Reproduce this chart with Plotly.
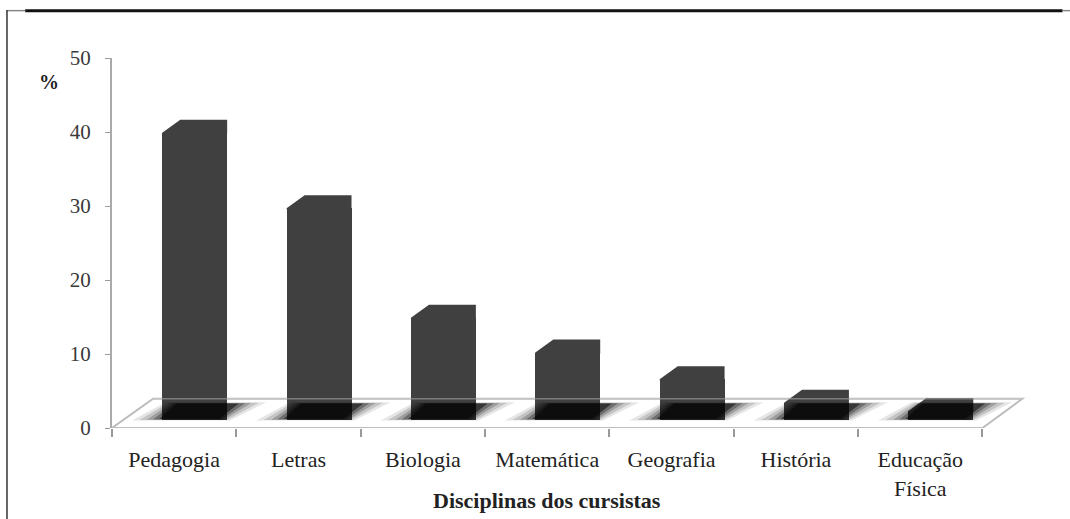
import plotly.graph_objects as go

categories = ["Pedagogia", "Letras", "Biologia", "Matemática", "Geografia", "História", "Educação<br>Física"]
values = [38.8, 28.6, 13.8, 9.1, 5.5, 2.3, 1.2]
y_ticks = [0, 10, 20, 30, 40, 50]

# style / geometry constants (pseudo-3D look)
FLOOR = 1.1          # bar base above axis zero (floor depth)
BAR_OFF = -0.096     # bar left edge relative to category position
BAR_W = 0.522
BEV_DX = 0.145       # bevel x shift
BEV_DY = 1.76        # bevel y shift
BAR_COLOR = "#404040"
SERIF = "Liberation Serif"

xs = list(range(len(categories)))
n = len(categories)

fig = go.Figure()

# floor parallelogram (below the bars)
fig.add_shape(type="path",
              path=f"M -0.5 0 L {n-0.5} 0 L {n-0.5+0.32} 3.95 L {-0.5+0.33} 3.95 Z",
              xref="x", yref="y", line=dict(color="#bdbdbd", width=2),
              fillcolor="white", layer="below")

# bars
fig.add_trace(go.Bar(x=xs, y=values, base=[FLOOR] * n, width=BAR_W, offset=BAR_OFF,
                     marker=dict(color=BAR_COLOR, line=dict(width=0)),
                     hoverinfo="skip", showlegend=False))

# bevelled tops (slight overlap with bar body to hide the seam)
bx, by = [], []
for x, v in zip(xs, values):
    top = FLOOR + v
    l = x + BAR_OFF
    r = l + BAR_W
    bx += [l, l, l + BEV_DX, r, r, l, None]
    by += [top - 0.15, top, top + BEV_DY, top + BEV_DY, top - 0.15, top - 0.15, None]
fig.add_trace(go.Scatter(x=bx, y=by, mode="lines", fill="toself", fillcolor=BAR_COLOR,
                         line=dict(width=0, color=BAR_COLOR), hoverinfo="skip", showlegend=False))

# blurred floor shadows (layers: grow, opacity)
layers = [(0.22, 0.10), (0.16, 0.14), (0.10, 0.2), (0.05, 0.3), (0.0, 0.5)]
for grow, op in layers:
    sx, sy = [], []
    for x in xs:
        fl = x - 0.12 - grow
        fr = x + 0.36 + grow * 0.4
        bl = x + 0.02 - grow * 0.4
        br = x + 0.52 + grow
        y0 = FLOOR + 0.1 - grow * 0.8
        y1 = 3.3 + grow * 0.8
        sx += [fl, fr, br, bl, fl, None]
        sy += [y0, y0, y1, y1, y0, None]
    fig.add_trace(go.Scatter(x=sx, y=sy, mode="lines", fill="toself",
                             fillcolor=f"rgba(0,0,0,{op})", line=dict(width=0),
                             hoverinfo="skip", showlegend=False))

# floor back edge faintly over bars
fig.add_shape(type="line", x0=-0.5 + 0.33, x1=n - 0.5 + 0.32, y0=3.95, y1=3.95,
              xref="x", yref="y", line=dict(color="rgba(200,200,200,0.45)", width=1.5))

# outer frame lines
fig.add_shape(type="line", xref="paper", yref="paper", x0=-0.095, x1=1.04, y0=1.128, y1=1.128,
              line=dict(color="#111111", width=3))
fig.add_shape(type="line", xref="paper", yref="paper", x0=-0.1149, x1=-0.095, y0=1.128, y1=1.128,
              line=dict(color="#888888", width=1.5))
fig.add_shape(type="line", xref="paper", yref="paper", x0=1.04, x1=1.062, y0=1.128, y1=1.128,
              line=dict(color="#888888", width=1.5))
fig.add_shape(type="line", xref="paper", yref="paper", x0=-0.1149, x1=-0.1149, y0=1.13, y1=-0.26,
              line=dict(color="#333333", width=1.5))

fig.update_layout(
    width=1070, height=519,
    margin=dict(l=112, r=44, t=58, b=91),
    paper_bgcolor="white", plot_bgcolor="white",
    bargap=0,
    font=dict(family=SERIF, color="#333333"),
    xaxis=dict(range=[-0.5, n - 0.5 + 0.35], tickmode="array", tickvals=xs, ticktext=categories,
               ticks="", showline=False, showgrid=False, zeroline=False,
               tickfont=dict(family=SERIF, size=22, color="#222222"),
               ticklabelstandoff=16,
               minor=dict(tickmode="array", tickvals=[i - 0.5 for i in range(n + 1)],
                          ticks="outside", ticklen=8, tickcolor="#999999", tickwidth=1.5)),
    yaxis=dict(range=[0, 50], tickvals=y_ticks, ticks="outside", ticklen=5, tickcolor="#999999",
               showline=True, linecolor="#aaaaaa", linewidth=2, showgrid=False, zeroline=False,
               tickfont=dict(family=SERIF, size=21, color="#3a3a3a"), ticklabelstandoff=10),
    annotations=[
        dict(text="<b>%</b>", xref="paper", yref="paper", x=-0.069, y=0.935,
             xanchor="center", yanchor="middle",
             showarrow=False, font=dict(family=SERIF, size=20, color="#222222")),
        dict(text="<b>Disciplinas dos cursistas</b>", xref="x", yref="paper", x=3, y=-0.195,
             xanchor="center", yanchor="middle",
             showarrow=False, font=dict(family=SERIF, size=22, color="#222222")),
    ],
)

fig.write_html("out.html", config={"displayModeBar": False},
               post_script="document.body.style.margin='0';")
